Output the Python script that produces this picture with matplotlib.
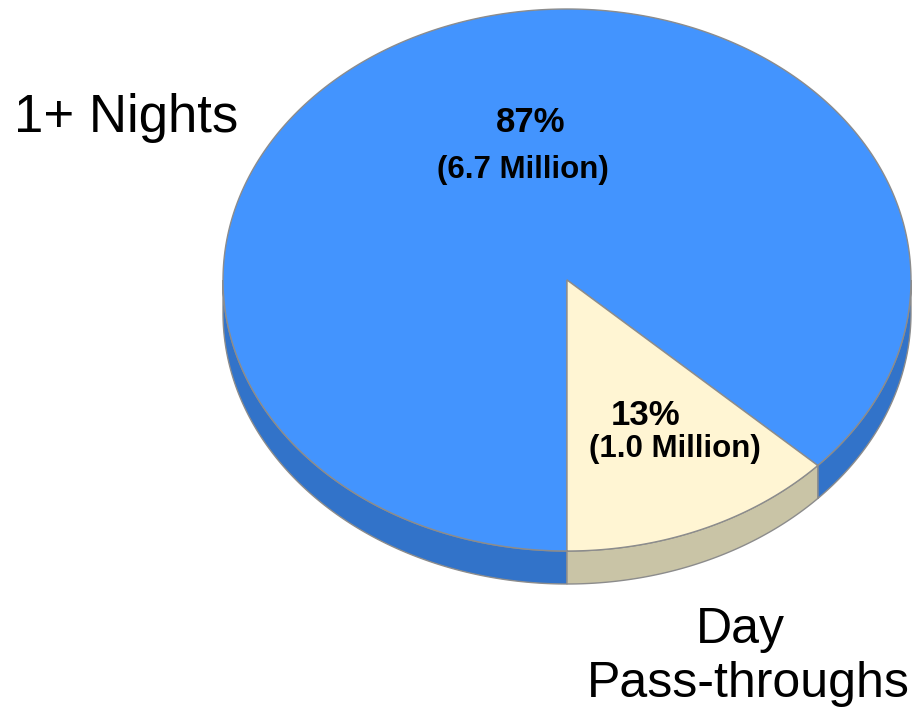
import numpy as np
import matplotlib.pyplot as plt
from matplotlib.patches import Polygon

# Trip share by length of stay
categories = ["1+ Nights", "Day\nPass-throughs"]
percents = [87, 13]
visitors_millions = [6.7, 1.0]

top_colors = ["#4394FE", "#FFF5D3"]
side_colors = ["#3273C9", "#C9C4A6"]
edge_color = "#8C8C8C"

W, H = 914, 714
fig = plt.figure(figsize=(W / 100, H / 100), dpi=100)
ax = fig.add_axes([0, 0, 1, 1])
ax.set_xlim(0, W)
ax.set_ylim(H, 0)
ax.axis("off")

# ellipse geometry of the tilted pie (pixel space)
cx, cy = 567, 280
a, b = 344, 271
depth = 33


def rim(theta_deg, dy=0.0):
    t = np.radians(theta_deg)
    return np.column_stack([cx + a * np.cos(t), cy - b * np.sin(t) + dy])


# slice angle ranges: the small slice starts at 6 o'clock, running counter-clockwise
fractions = np.array(percents, dtype=float) / sum(percents)
small_start = 270.0
small_end = small_start + 360 * fractions[1]          # ~316.8
ranges = [(small_end - 360, small_start), (small_start, small_end)]

# front side walls (visible for angles between 180 and 360 degrees)
for (t1, t2), col in zip(ranges, side_colors):
    for lo, hi in [(180, 360), (-180, 0)]:
        s, e = max(t1, lo), min(t2, hi)
        if e <= s:
            continue
        th = np.linspace(s, e, 200)
        pts = np.vstack([rim(th), rim(th[::-1], depth)])
        ax.add_patch(Polygon(pts, closed=True, facecolor=col,
                             edgecolor=edge_color, linewidth=1.0, zorder=1))

# top faces
for (t1, t2), col in zip(ranges, top_colors):
    th = np.linspace(t1, t2, 600)
    pts = np.vstack([[cx, cy], rim(th)])
    ax.add_patch(Polygon(pts, closed=True, facecolor=col,
                         edgecolor=edge_color, linewidth=1.0, zorder=2))

# value labels inside the slices
bold = dict(family="Liberation Sans", fontweight="bold", color="black", zorder=5)
ax.text(531, 132, f"{percents[0]}%", fontsize=25, ha="center", va="baseline", **bold)
ax.text(523, 178, f"({visitors_millions[0]:.1f} Million)", fontsize=22.5,
        ha="center", va="baseline", **bold)
ax.text(646, 425, f"{percents[1]}%", fontsize=25, ha="center", va="baseline", **bold)
ax.text(675, 457, f"({visitors_millions[1]:.1f} Million)", fontsize=22.5,
        ha="center", va="baseline", **bold)

# category labels
reg = dict(family="Liberation Sans", color="black", zorder=5)
ax.text(14, 132, categories[0], fontsize=38, ha="left", va="baseline", **reg)
day, passing = categories[1].split("\n")
ax.text(740, 643, day, fontsize=36, ha="center", va="baseline", **reg)
ax.text(748, 697, passing, fontsize=36, ha="center", va="baseline", **reg)

fig.savefig("out.png", dpi=100, facecolor="white")
